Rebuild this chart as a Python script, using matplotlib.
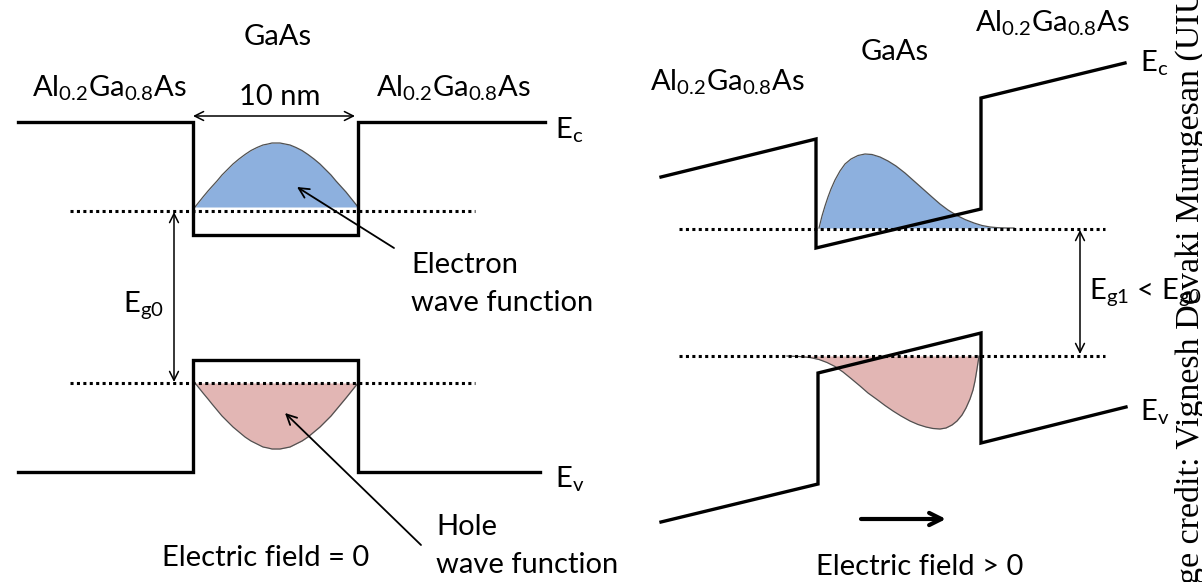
import matplotlib
matplotlib.use("Agg")
import matplotlib.pyplot as plt

plt.rcParams['font.family'] = ['Lato', 'DejaVu Sans']
plt.rcParams['mathtext.fontset'] = 'custom'
plt.rcParams['mathtext.rm'] = 'Lato'
plt.rcParams['mathtext.it'] = 'Lato'
plt.rcParams['mathtext.default'] = 'regular'

# ---------------- data (pixel coordinates) ----------------
# Left panel: zero field
left_ec_x = [18, 193, 193, 358, 358, 545]
left_ec_y = [122, 122, 235, 235, 122, 122]
left_ev_x = [18, 193, 193, 358, 358, 540]
left_ev_y = [472, 472, 360, 360, 472, 472]
left_e_level = 211
left_h_level = 383
left_level_x = [70, 475]

left_wf_x = [195, 199, 203, 208, 212, 217, 222, 227, 233, 239, 245, 251, 257, 263, 268, 272, 276,
             280, 285, 290, 296, 302, 308, 314, 320, 326, 331, 336, 341, 346, 350, 354, 358]
left_elec_y = [207, 202, 197, 191, 186.5, 181, 175, 170, 164, 159, 154.5, 150.5, 147.5, 145, 144, 143, 143,
               143, 144, 145, 147.5, 150.5, 154.5, 159, 164, 170, 175, 181, 186.5, 192, 197, 202, 207]
left_elec_base = 207
left_hole_y = [383, 388, 393, 399, 404, 410, 416, 421, 427, 432, 437, 441, 444, 447, 448, 449, 449,
               449, 448, 447, 444, 441, 437, 432, 427, 421, 416, 410, 404, 398, 393, 388, 383]

# Right panel: field applied
right_ec_x = [661, 816, 816, 981, 981, 1125]
right_ec_y = [177, 139, 248, 209, 98, 63]
right_ev_x = [661, 818, 818, 981, 981, 1126]
right_ev_y = [522, 484, 373, 333, 443, 407]
right_e_level = 229
right_h_level = 356
right_level_x = [679, 1105]

right_elec_x = [819, 822, 825, 828, 831, 835, 840, 845, 851, 858, 865, 872, 880, 888, 896, 905,
                914, 923, 932, 940, 948, 957, 965, 974, 982, 990, 998, 1006, 1014]
right_elec_y = [228, 216, 206, 197, 189, 180, 171, 164, 159, 155.5, 154, 154.5, 157, 161, 166, 173,
                181, 189, 197, 204, 210, 215.5, 219.5, 223, 225.5, 227, 227.7, 228, 228]
right_elec_base = 228

right_hole_x = [787, 799, 810, 819, 827, 835, 843, 851, 860, 868, 877, 885, 893, 901, 910, 918,
                926, 933, 940, 946, 952, 957, 962, 966, 970, 973, 975, 977, 979]
right_hole_y = [356, 356.5, 357.5, 359.5, 362.5, 366.5, 372, 378.5, 386, 393, 399.5, 405.5, 411, 416, 421, 424.5,
                427, 428.5, 429, 428, 425, 421, 415, 408, 399, 390, 381, 369, 356]

alga = r"Al$_{0.2}$Ga$_{0.8}$As"
credit = "Image credit: Vignesh Devaki Murugesan (UIUC)"

# ---------------- drawing ----------------
fig = plt.figure(figsize=(12.02, 5.82), dpi=100)
ax = fig.add_axes([0, 0, 1, 1])
ax.set_xlim(0, 1202)
ax.set_ylim(582, 0)
ax.axis('off')

blue = '#8DB0DE'
pink = '#E2B6B4'
edge = '#505050'
FS = 21
band_lw = 2.4
dot_style = dict(color='black', lw=2.2, linestyle=(0, (1, 1.1)), solid_capstyle='butt')

# wavefunctions
ax.fill_between(left_wf_x, left_elec_y, left_elec_base, color=blue, lw=0, zorder=1)
ax.plot(left_wf_x, left_elec_y, color=edge, lw=0.9, zorder=2)
ax.fill_between(left_wf_x, left_hole_y, left_h_level, color=pink, lw=0, zorder=1)
ax.plot(left_wf_x, left_hole_y, color=edge, lw=0.9, zorder=2)
ax.fill_between(right_elec_x, right_elec_y, right_elec_base, color=blue, lw=0, zorder=1)
ax.plot(right_elec_x, right_elec_y, color=edge, lw=0.9, zorder=2)
ax.fill_between(right_hole_x, right_hole_y, right_h_level, color=pink, lw=0, zorder=1)
ax.plot(right_hole_x, right_hole_y, color=edge, lw=0.9, zorder=2)

# levels
ax.plot(left_level_x, [left_e_level] * 2, zorder=3, **dot_style)
ax.plot(left_level_x, [left_h_level] * 2, zorder=3, **dot_style)
ax.plot(right_level_x, [right_e_level] * 2, zorder=3, **dot_style)
ax.plot(right_level_x, [right_h_level] * 2, zorder=3, **dot_style)

# band edges
for xs, ys in [(left_ec_x, left_ec_y), (left_ev_x, left_ev_y),
               (right_ec_x, right_ec_y), (right_ev_x, right_ev_y)]:
    ax.plot(xs, ys, color='black', lw=band_lw, solid_joinstyle='miter', zorder=4)

# arrows
thin = dict(arrowstyle='<->', color='black', lw=1.1, mutation_scale=16, shrinkA=0, shrinkB=0)
ax.annotate('', xy=(193, 116), xytext=(355, 116), arrowprops=thin)
ax.annotate('', xy=(174, left_e_level + 1), xytext=(174, left_h_level - 1), arrowprops=thin)
ax.annotate('', xy=(1080, right_e_level + 1), xytext=(1080, right_h_level - 2), arrowprops=thin)
one = dict(arrowstyle='->', color='black', lw=1.3, mutation_scale=18, shrinkA=0, shrinkB=0)
ax.annotate('', xy=(297, 187), xytext=(394, 248), arrowprops=one)
ax.annotate('', xy=(285, 413), xytext=(421, 545), arrowprops=one)
ax.annotate('', xy=(946, 519), xytext=(861, 519),
            arrowprops=dict(arrowstyle='->', color='black', lw=3, mutation_scale=22,
                            shrinkA=0, shrinkB=0))

# texts
def t(x, y, s, ha='center', va='center', **kw):
    ax.text(x, y, s, ha=ha, va=va, fontsize=FS, color='black', **kw)

t(278, 37, "GaAs")
t(109, 88, alga)
t(453, 88, alga)
t(280, 97, "10 nm")
t(555, 130, r"E$_c$", ha='left')
t(411, 265, "Electron", ha='left')
t(411, 303, "wave function", ha='left')
t(143, 305, r"E$_{g0}$")
t(555, 479, r"E$_v$", ha='left')
t(436, 527, "Hole", ha='left')
t(436, 565, "wave function", ha='left')
t(266, 558, "Electric field = 0")

t(727, 82, alga)
t(895, 52, "GaAs")
t(1052, 23, alga)
t(1140, 63, r"E$_c$", ha='left')
t(1089, 292, r"E$_{g1}$ < E$_{g0}$", ha='left')
t(1140, 412, r"E$_v$", ha='left')
t(920, 567, "Electric field > 0")

# vertical credit text (partly outside the picture)
cfs = 24.5
fig.canvas.draw()
r = fig.canvas.get_renderer()
tmp = ax.text(0, 0, "Ima", fontsize=cfs, family='Liberation Serif')
pre_w = tmp.get_window_extent(renderer=r).width
tmp.remove()
ax.text(1199, 584 + pre_w, credit, rotation=90, rotation_mode='anchor', ha='left', va='baseline',
        fontsize=cfs, family='Liberation Serif', color='black', clip_on=False)

fig.savefig('out.png', dpi=100)
